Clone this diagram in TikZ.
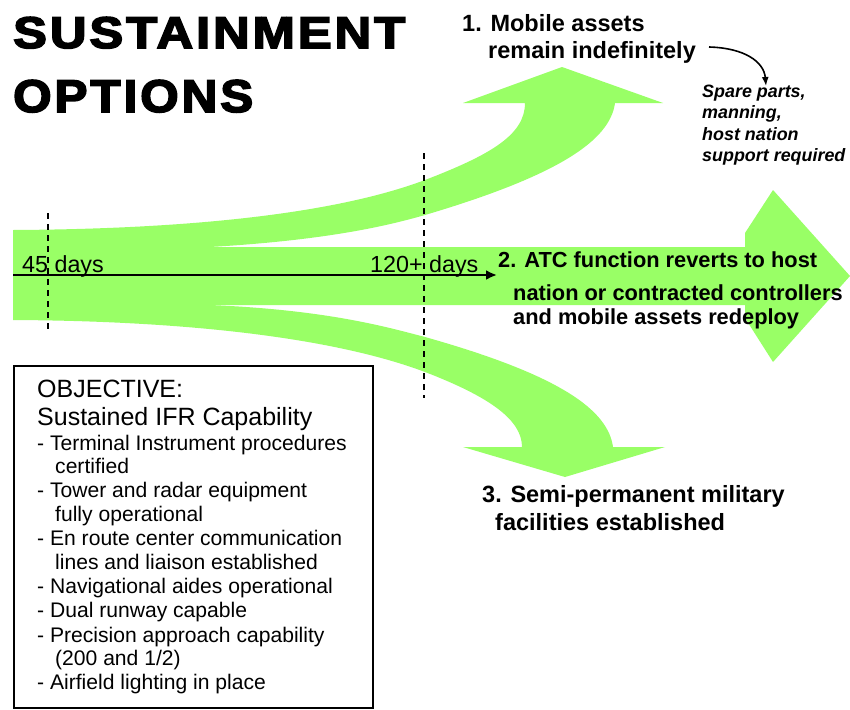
\documentclass[tikz,border=0pt]{standalone}
\usepackage{fontspec}
\setmainfont{Liberation Sans}
\newfontfamily\titlefont{Liberation Sans}[UprightFont={* Bold}, UprightFeatures={FakeBold=3.5}, LetterSpace=6]
\usetikzlibrary{arrows.meta}
\definecolor{arrowgreen}{RGB}{153,255,102}
\tikzset{
  band/.style={fill=arrowgreen, draw=none},
  dashln/.style={draw=black, line width=2pt, dash pattern=on 6pt off 5pt},
  tline/.style={draw=black, line width=2.4pt, -{Latex[length=11pt,width=10pt]}},
  optlbl/.style={anchor=base west, inner sep=0pt, font=\bfseries\fontsize{23.5}{24}\selectfont},
  optlblb/.style={anchor=base west, inner sep=0pt, font=\bfseries\fontsize{21.8}{24}\selectfont},
  daylbl/.style={anchor=base west, inner sep=0pt, font=\fontsize{23.3}{24}\selectfont},
  notelbl/.style={anchor=base west, inner sep=0pt, font=\bfseries\itshape\fontsize{17.9}{20}\selectfont},
  objhead/.style={anchor=base west, inner sep=0pt, font=\fontsize{25}{26}\selectfont},
  objitem/.style={anchor=base west, inner sep=0pt, font=\fontsize{21.1}{22}\selectfont},
  curvarrow/.style={draw=black, line width=1.6pt, -{Latex[length=9pt,width=7pt]}},
}
\begin{document}
\begin{tikzpicture}[x=1pt,y=-1pt]
\path[use as bounding box, fill=white] (0,0) rectangle (850,709);

% green arrows
\path[band] (13,230) .. controls (200,229) and (340,212) .. (425,180)
  .. controls (490,155) and (525,135) .. (525,103)
  -- (463,103) -- (562,67) -- (663,103) -- (615,103)
  .. controls (610,140) and (560,175) .. (425,215)
  .. controls (390,225) and (330,240) .. (210,247)
  -- (210,277) -- (13,277) -- cycle;
\path[band] (13,320) .. controls (200,321) and (340,340) .. (425,372)
  .. controls (490,397) and (522,420) .. (522,447)
  -- (463,447) -- (565,477) -- (665,447) -- (613,447)
  .. controls (608,410) and (560,375) .. (425,337)
  .. controls (390,328) and (330,310) .. (210,305)
  -- (210,275) -- (13,275) -- cycle;
\path[band] (200,247) -- (745,247) -- (745,233) -- (773,190) -- (850,276)
  -- (773,362) -- (745,318) -- (745,305) -- (200,305) -- cycle;

% title
\node[anchor=base west, inner sep=0pt] (title1) at (13,48)
  {\resizebox{392pt}{31pt}{\titlefont SUSTAINMENT}};
\node[anchor=base west, inner sep=0pt] (title2) at (13,112)
  {\resizebox{240pt}{32pt}{\titlefont OPTIONS}};

% dashed time markers
\coordinate (d1t) at (48,213);
\coordinate (d1b) at (48,332);
\coordinate (d2t) at (424,153);
\coordinate (d2b) at (424,398);
\draw[dashln] (d1t) -- (d1b);
\draw[dashln] (d2t) -- (d2b);

% timeline
\coordinate (tl0) at (13,275);
\coordinate (tl1) at (497,275);
\draw[tline] (tl0) -- (tl1);
\node[daylbl] (day45) at (22,272) {45 days};
\node[daylbl] (day120) at (370,272) {120+ days};

% option 1
\node[optlbl] (o1a) at (462,32) {1. Mobile assets};
\node[optlbl] (o1b) at (488,59) {remain indefinitely};
\node[notelbl] (n1) at (702,97) {Spare parts,};
\node[notelbl] (n2) at (702,118) {manning,};
\node[notelbl] (n3) at (702,140) {host nation};
\node[notelbl] (n4) at (702,161) {support required};
\coordinate (ca0) at (709,47);
\coordinate (ca1) at (766,86);
\draw[curvarrow] (ca0) .. controls (745,48) and (764,62) .. (ca1);

% option 2
\node[optlblb] (o2a) at (498,267) {2. ATC function reverts to host};
\node[optlblb] (o2b) at (513,300) {nation or contracted controllers};
\node[optlblb] (o2c) at (513,324) {and mobile assets redeploy};

% option 3
\node[optlbl] (o3a) at (482,502) {3. Semi-permanent military};
\node[optlbl] (o3b) at (495,530) {facilities established};

% objective box
\node[draw=black, line width=2pt, anchor=north west, inner sep=0pt,
      minimum width=359pt, minimum height=342pt] (objbox) at (13,365) {};
\node[objhead] (h1) at (37,397) {OBJECTIVE:};
\node[objhead] (h2) at (37,425) {Sustained IFR Capability};
\node[objitem] (i1) at (37,450) {- Terminal Instrument procedures};
\node[objitem] (i1b) at (55,473) {certified};
\node[objitem] (i2) at (37,497) {- Tower and radar equipment};
\node[objitem] (i2b) at (55,521) {fully operational};
\node[objitem] (i3) at (37,545) {- En route center communication};
\node[objitem] (i3b) at (55,569) {lines and liaison established};
\node[objitem] (i4) at (37,593) {- Navigational aides operational};
\node[objitem] (i5) at (37,617) {- Dual runway capable};
\node[objitem] (i6) at (37,642) {- Precision approach capability};
\node[objitem] (i6b) at (55,665) {(200 and 1/2)};
\node[objitem] (i7) at (37,689) {- Airfield lighting in place};
\end{tikzpicture}
\end{document}
